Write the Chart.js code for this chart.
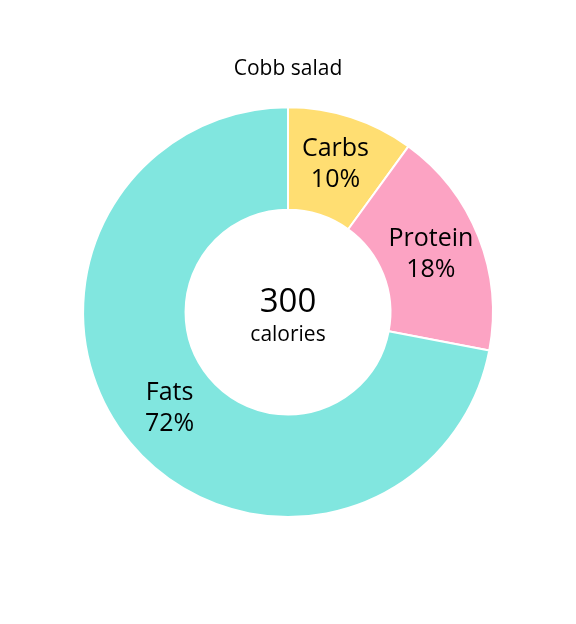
<!DOCTYPE html>
<html>
<head>
<meta charset="utf-8">
<script src="https://cdn.jsdelivr.net/npm/chart.js@4"></script>
<style>
html,body{margin:0;padding:0;background:#fff;}
#wrap{width:576px;height:624px;position:relative;}
</style>
</head>
<body>
<div id="wrap"><canvas id="c" width="576" height="624"></canvas></div>
<script>
const categories = ["Carbs", "Protein", "Fats"];
const values = [10, 18, 72];
const colors = ["#FFDE72", "#FCA3C3", "#81E6DF"];
const titleText = "Cobb salad";
const centerValue = "300";
const centerLabel = "calories";
const FONT = "'Open Sans', 'Noto Sans', sans-serif";

const total = values.reduce((a, b) => a + b, 0);

const labelPlugin = {
  id: 'sliceLabels',
  afterDatasetsDraw(chart) {
    const ctx = chart.ctx;
    const meta = chart.getDatasetMeta(0);
    ctx.save();
    ctx.fillStyle = '#000';
    ctx.textAlign = 'center';
    ctx.textBaseline = 'middle';
    ctx.font = "25px " + FONT;
    meta.data.forEach((arc, i) => {
      const p = arc.getCenterPoint();
      const pct = Math.round(values[i] / total * 100) + '%';
      ctx.fillText(categories[i], p.x, p.y - 17);
      ctx.fillText(pct, p.x, p.y + 14);
    });
    // center text
    const a = meta.data[0];
    ctx.font = "33px " + FONT;
    ctx.fillText(centerValue, a.x, a.y - 10);
    ctx.font = "21px " + FONT;
    ctx.fillText(centerLabel, a.x, a.y + 23);
    ctx.restore();
  }
};

new Chart(document.getElementById('c'), {
  type: 'doughnut',
  data: {
    labels: categories,
    datasets: [{
      data: values,
      backgroundColor: colors,
      borderColor: '#ffffff',
      borderWidth: 2,
      hoverOffset: 0
    }]
  },
  options: {
    responsive: false,
    animation: false,
    cutout: '50%',
    layout: { padding: { top: 0, bottom: 106, left: 0, right: 0 } },
    plugins: {
      legend: { display: false },
      tooltip: { enabled: false },
      title: {
        display: true,
        text: titleText,
        color: '#000',
        font: { family: FONT, size: 21, weight: 'normal' },
        padding: { top: 56, bottom: 25 }
      }
    }
  },
  plugins: [labelPlugin]
});
</script>
</body>
</html>
